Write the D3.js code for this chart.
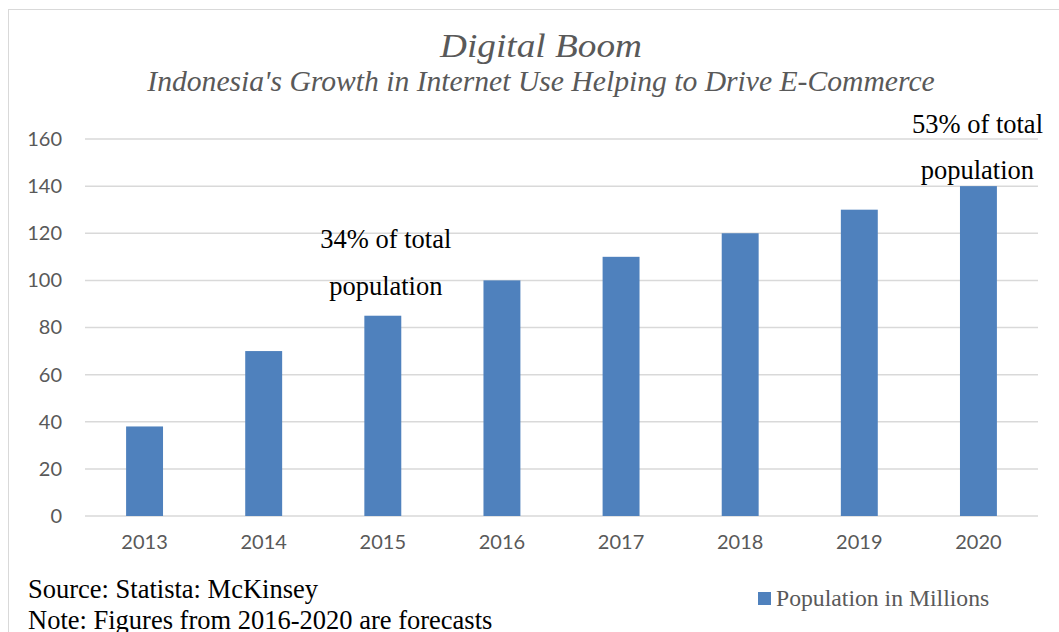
<!DOCTYPE html>
<html>
<head>
<meta charset="utf-8">
<script src="https://cdn.jsdelivr.net/npm/d3@7"></script>
<style>
  body { margin: 0; background: #fff; }
  svg { display: block; }
</style>
</head>
<body>
<div id="chart"></div>
<script>
const years = ["2013", "2014", "2015", "2016", "2017", "2018", "2019", "2020"];
const population = [38, 70, 85, 100, 110, 120, 130, 140];
const yTicks = [0, 20, 40, 60, 80, 100, 120, 140, 160];

const width = 1059;
const height = 632;
const margin = { top: 139, right: 21, bottom: 116, left: 85 };
const serif = "'Liberation Serif', 'Times New Roman', serif";
const sans = "Lato, 'Open Sans', sans-serif";

const svg = d3.select("#chart")
  .append("svg")
  .attr("width", width)
  .attr("height", height);

// outer frame
svg.append("rect")
  .attr("x", 8.5).attr("y", 9.5)
  .attr("width", width + 10).attr("height", height + 10)
  .attr("fill", "none")
  .attr("stroke", "#d9d9d9")
  .attr("stroke-width", 1);

const x = d3.scaleBand()
  .domain(years)
  .range([margin.left, width - margin.right])
  .paddingInner(0.69)
  .paddingOuter(0.345);

const y = d3.scaleLinear()
  .domain([0, 160])
  .range([height - margin.bottom, margin.top]);

// gridlines
svg.append("g")
  .selectAll("line")
  .data(yTicks)
  .join("line")
  .attr("x1", margin.left)
  .attr("x2", width - margin.right)
  .attr("y1", d => y(d))
  .attr("y2", d => y(d))
  .attr("stroke", "#d9d9d9")
  .attr("stroke-width", 1.5);

// bars
svg.append("g")
  .selectAll("rect")
  .data(years.map((yr, i) => ({ year: yr, value: population[i] })))
  .join("rect")
  .attr("x", d => x(d.year))
  .attr("y", d => y(d.value))
  .attr("width", x.bandwidth())
  .attr("height", d => y(0) - y(d.value))
  .attr("fill", "#4f81bd");

// y axis
const yAxis = svg.append("g")
  .attr("transform", `translate(${margin.left - 23},0)`)
  .call(d3.axisLeft(y).tickValues(yTicks).tickSize(0).tickPadding(0));
yAxis.select(".domain").remove();
yAxis.selectAll("text")
  .attr("font-family", sans)
  .attr("font-size", 20)
  .attr("fill", "#595959");

// x axis
const xAxis = svg.append("g")
  .attr("transform", `translate(0,${height - margin.bottom})`)
  .call(d3.axisBottom(x).tickSize(0).tickPadding(19));
xAxis.select(".domain").remove();
xAxis.selectAll("text")
  .attr("font-family", sans)
  .attr("font-size", 20)
  .attr("fill", "#595959");

// titles (slightly widened to match the original's letterforms)
svg.append("text")
  .attr("transform", "translate(541,57) scale(1.13,1)")
  .attr("text-anchor", "middle")
  .attr("font-family", serif)
  .attr("font-style", "italic")
  .attr("font-size", 33)
  .attr("fill", "#595959")
  .text("Digital Boom");

svg.append("text")
  .attr("transform", "translate(541,91) scale(1.04,1)")
  .attr("text-anchor", "middle")
  .attr("font-family", serif)
  .attr("font-style", "italic")
  .attr("font-size", 28.5)
  .attr("fill", "#595959")
  .text("Indonesia's Growth in Internet Use Helping to Drive E-Commerce");

// annotations
function note(cx, cy, txt, anchor) {
  svg.append("text")
    .attr("x", cx).attr("y", cy)
    .attr("text-anchor", anchor || "middle")
    .attr("font-family", serif)
    .attr("font-size", 26.5)
    .attr("fill", "#000")
    .text(txt);
}
const c2015 = x("2015") + x.bandwidth() / 2;
const c2020 = x("2020") + x.bandwidth() / 2;
note(c2015 + 3, 248, "34% of total");
note(c2015 + 3, 295, "population");
note(1043, 133, "53% of total", "end");
note(c2020 - 1, 179, "population");

// source + note
svg.append("text")
  .attr("x", 28).attr("y", 598)
  .attr("font-family", serif)
  .attr("font-size", 26.5)
  .attr("fill", "#000")
  .text("Source: Statista: McKinsey");

svg.append("text")
  .attr("x", 28).attr("y", 629)
  .attr("font-family", serif)
  .attr("font-size", 26.5)
  .attr("fill", "#000")
  .text("Note: Figures from 2016-2020 are forecasts");

// legend
svg.append("rect")
  .attr("x", 758).attr("y", 592)
  .attr("width", 13).attr("height", 13)
  .attr("fill", "#4f81bd");
svg.append("text")
  .attr("x", 776).attr("y", 606)
  .attr("font-family", serif)
  .attr("font-size", 23.7)
  .attr("fill", "#595959")
  .text("Population in Millions");
</script>
</body>
</html>
